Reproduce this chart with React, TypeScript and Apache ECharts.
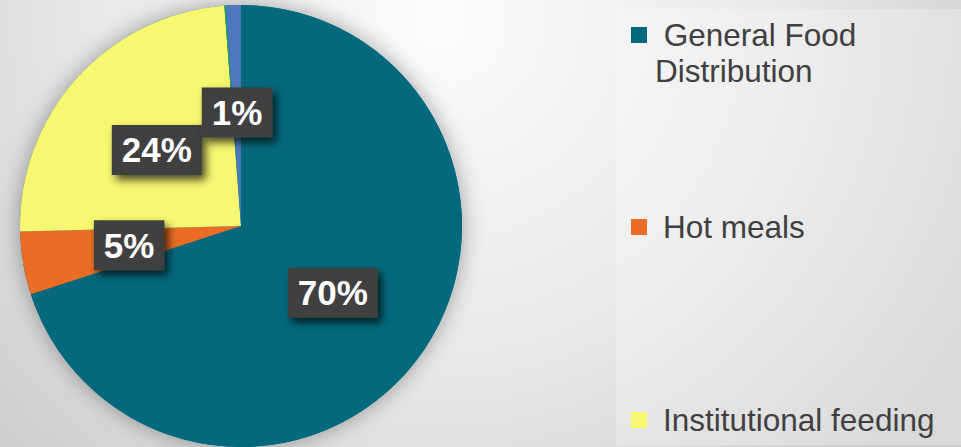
import React, { useEffect, useRef } from "react";
import * as echarts from "echarts";

const categories = [
  "General Food Distribution",
  "Hot meals",
  "Institutional feeding",
  "Nutrition support",
  "Other",
];
const shares = [70, 4.6, 24.2, 0.1, 1.1];
const colors = ["#04697D", "#EB6D25", "#F8F771", "#1FA84A", "#4E78BE"];
const legendItems = ["General Food Distribution", "Hot meals", "Institutional feeding"];
const legendTexts = ["\n General Food\nDistribution", "Hot meals", "Institutional feeding"];

export default function App() {
  const ref = useRef<HTMLDivElement>(null);
  useEffect(() => {
    document.body.style.margin = "0";
    const chart = echarts.init(ref.current!, null, { renderer: "svg" });
    const font = "'Liberation Sans', Arial, sans-serif";
    const legendTops = [-19, 209, 402];
    const legendPads = [3, 11, 11];
    const total = shares.reduce((a, b) => a + b, 0);
    chart.setOption({
      animation: false,
      color: colors,
      graphic: [
        {
          type: "rect",
          z: -10,
          silent: true,
          shape: { x: 616, y: 9, width: 345, height: 436 },
          style: { fill: "rgba(255,255,255,0.25)" },
        },
      ],
      legend: legendItems.map((name, i) => ({
        data: [name],
        left: 631,
        top: legendTops[i],
        orient: "vertical",
        padding: 0,
        icon: "rect",
        itemWidth: 16,
        itemHeight: 16,
        selectedMode: false,
        formatter: () => legendTexts[i],
        textStyle: {
          fontSize: 31.5,
          lineHeight: 36,
          color: "#404040",
          fontFamily: font,
          padding: [0, 0, 0, legendPads[i]],
        },
      })),
      series: [
        {
          type: "pie",
          name: "shadow",
          silent: true,
          center: [241, 226],
          radius: 221,
          label: { show: false },
          labelLine: { show: false },
          itemStyle: {
            color: "#04697D",
            shadowBlur: 22,
            shadowColor: "rgba(0,0,0,0.35)",
            shadowOffsetX: 0,
            shadowOffsetY: 0,
          },
          data: [{ value: total, name: "" }],
        },
        {
          type: "pie",
          name: "Share",
          center: [241, 226],
          radius: 221,
          startAngle: 90,
          clockwise: true,
          avoidLabelOverlap: false,
          itemStyle: { borderWidth: 0 },
          labelLine: { show: false },
          label: {
            show: true,
            position: "inside",
            formatter: (p: any) => Math.round(p.percent) + "%",
            color: "#ffffff",
            fontSize: 35,
            fontWeight: "bold",
            fontFamily: font,
            lineHeight: 36,
            backgroundColor: "#3f3f3f",
            padding: [7, 10, 7, 10],
            shadowColor: "rgba(0,0,0,0.7)",
            shadowBlur: 8,
            shadowOffsetX: 4,
            shadowOffsetY: 5,
          },
          data: categories.map((name, i) => ({
            name,
            value: shares[i],
            label: shares[i] / total < 0.005 ? { show: false } : undefined,
          })),
        },
      ],
    });
    return () => chart.dispose();
  }, []);
  return (
    <div
      ref={ref}
      style={{
        width: 961,
        height: 447,
        background:
          "radial-gradient(circle 620px at 440px 20px, #fcfcfc 0%, #e8e8e8 55%, #cdcdcd 100%)",
      }}
    />
  );
}
